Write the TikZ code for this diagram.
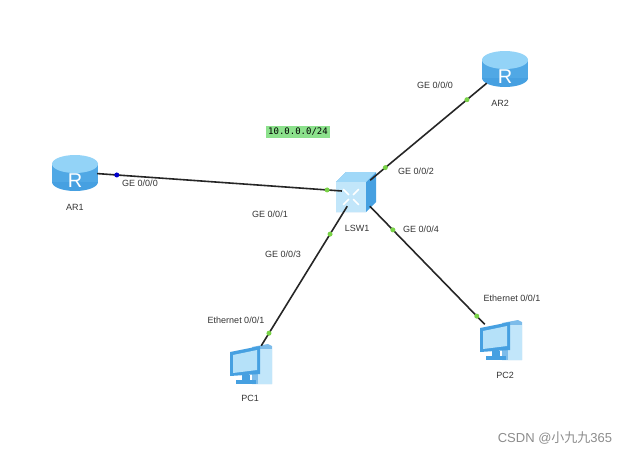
\documentclass[tikz,border=0pt]{standalone}
\usepackage{fontspec}
\setmainfont{Liberation Sans}
\setmonofont{DejaVu Sans Mono}
\newfontfamily\cjk{Noto Sans CJK SC}
\usetikzlibrary{calc}
\definecolor{devblue}{RGB}{120,200,245}
\definecolor{devdark}{RGB}{70,160,225}
\definecolor{portgreen}{RGB}{120,210,70}
\definecolor{netgreen}{RGB}{140,225,140}
\tikzset{
  dev/.style={inner sep=0pt,minimum width=40pt,minimum height=36pt},
  lbl/.style={font=\fontsize{9}{10}\selectfont,text=black!80,inner sep=0pt},
  port/.style={fill=portgreen,circle,inner sep=0pt,minimum size=5pt},
  link/.style={line width=1.6pt,black!85},
}
\newcommand{\router}[1]{%
  \fill[devdark] ($(#1)+(0,10)$) ellipse (23 and 9);
  \fill[devdark!80!devblue] ($(#1)+(-23,-8)$) rectangle ($(#1)+(23,10)$);
  \fill[devblue!80] ($(#1)+(0,-8)$) ellipse (23 and 9);
  \node[text=white,font=\fontsize{20}{20}\selectfont] at ($(#1)+(0,9)$) {R};}
\newcommand{\pc}[1]{%
  \fill[devdark!70] ($(#1)+(2,-17)$) -- ($(#1)+(18,-20)$) -- ($(#1)+(22,-18)$) -- ($(#1)+(22,20)$) -- ($(#1)+(2,20)$) -- cycle;
  \fill[devblue!45] ($(#1)+(8,-15)$) rectangle ($(#1)+(22,20)$);
  \fill[devdark] ($(#1)+(-20,-12)$) -- ($(#1)+(10,-18)$) -- ($(#1)+(10,10)$) -- ($(#1)+(-20,12)$) -- cycle;
  \fill[devblue!55] ($(#1)+(-17,-9)$) -- ($(#1)+(7,-14)$) -- ($(#1)+(7,6)$) -- ($(#1)+(-17,9)$) -- cycle;
  \fill[devdark] ($(#1)+(-8,11)$) rectangle ($(#1)+(0,17)$);
  \fill[devdark] ($(#1)+(-14,16)$) rectangle ($(#1)+(6,20)$);}
\newcommand{\switch}[1]{%
  \fill[devdark] ($(#1)+(-20,-10)$) -- ($(#1)+(-10,-20)$) -- ($(#1)+(20,-20)$) -- ($(#1)+(20,10)$) -- ($(#1)+(10,20)$) -- ($(#1)+(-20,20)$) -- cycle;
  \fill[devblue!70] ($(#1)+(-20,-10)$) -- ($(#1)+(-10,-20)$) -- ($(#1)+(20,-20)$) -- ($(#1)+(10,-10)$) -- cycle;
  \fill[devblue!45] ($(#1)+(-20,-10)$) rectangle ($(#1)+(10,20)$);
  \foreach \a in {45,135,225,315}
    \draw[white,line width=1.5pt] ($(#1)+(-5,5)+(\a:3)$) -- ($(#1)+(-5,5)+(\a:11)$);}
\begin{document}
\begin{tikzpicture}[x=1pt,y=-1pt]
\useasboundingbox (0,0) rectangle (644,456);
% devices
\node[dev,minimum width=44pt,minimum height=30pt] (ar1) at (75,172) {};
\node[dev,minimum width=44pt,minimum height=30pt] (ar2) at (505,68) {};
\node[dev,minimum width=28pt,minimum height=28pt] (lsw1) at (356,192) {};
\node[dev,minimum width=30pt] (pc1) at (250,364) {};
\node[dev,minimum width=30pt] (pc2) at (500,340) {};
\router{ar1} \router{ar2} \switch{lsw1} \pc{pc1} \pc{pc2}
% links
\draw[link] (ar1) -- (lsw1)
  node[port,fill=blue!80!black,pos=0.08] {} node[port,pos=0.94] {};
\draw[link] (ar2) -- (lsw1)
  node[port,pos=0.17] {} node[port,pos=0.87] {};
\draw[link] (lsw1) -- (pc1)
  node[port,pos=0.2] {} node[port,pos=0.91] {};
\draw[link] (lsw1) -- (pc2)
  node[port,pos=0.2] {} node[port,pos=0.93] {};
% names
\node[lbl] at (75,207) {AR1};
\node[lbl] at (500,103) {AR2};
\node[lbl] at (357,228) {LSW1};
\node[lbl] at (250,398) {PC1};
\node[lbl] at (505,375) {PC2};
% ports
\node[lbl] at (140,183) {GE 0/0/0};
\node[lbl] at (270,214) {GE 0/0/1};
\node[lbl] at (416,171) {GE 0/0/2};
\node[lbl] at (435,85) {GE 0/0/0};
\node[lbl] at (283,254) {GE 0/0/3};
\node[lbl] at (421,229) {GE 0/0/4};
\node[lbl] at (236,320) {Ethernet 0/0/1};
\node[lbl] at (512,298) {Ethernet 0/0/1};
\node[fill=netgreen,inner sep=2pt,font=\ttfamily\fontsize{9}{10}\selectfont] (net) at (298,132) {10.0.0.0/24};
\node[text=black!45,font=\fontsize{13}{14}\selectfont] at (555,438) {CSDN @{\cjk 小九九}365};
\end{tikzpicture}
\end{document}
